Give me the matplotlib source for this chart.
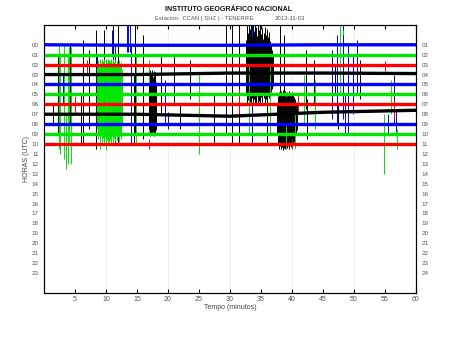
import matplotlib
matplotlib.use('Agg')
from matplotlib import pyplot as plt

plt.rcParams['font.family'] = ['Liberation Sans', 'DejaVu Sans']

# etiquetas de horas (izquierda: inicio de la fila, derecha: final)
horas_izq = ['%02d' % h for h in range(24)]
horas_der = ['%02d' % h for h in range(1, 25)]
minutos_ticks = [5, 10, 15, 20, 25, 30, 35, 40, 45, 50, 55, 60]

# colores de las trazas, se repiten cada 4 horas
colores = ['#0000ff', '#00e600', '#ff0000', '#000000']

# deriva de la linea base de cada hora (minuto, desplazamiento en filas)
base_min = [0, 15, 30, 45, 60]
deriva = [
    [0.0, 0.05, 0.05, 0.0, 0.0],
    [0.0, 0.0, 0.0, 0.0, 0.0],
    [0.0, 0.0, 0.0, 0.0, 0.0],
    [0.0, 0.0, -0.15, -0.15, -0.1],
    [0.0, 0.0, 0.0, 0.0, 0.0],
    [0.0, 0.0, 0.0, 0.0, 0.0],
    [0.0, 0.0, 0.0, 0.0, 0.0],
    [0.0, 0.0, 0.2, -0.2, -0.4],
    [0.0, 0.0, 0.0, 0.0, 0.0],
    [0.0, 0.0, 0.0, 0.0, 0.0],
    [0.0, 0.0, 0.0, 0.0, 0.0],
]

# picos aislados por hora: (minuto, subida, bajada) en filas
picos = [
    [(11.0, 1.5, 1.0), (13.4, 2.5, 0.7), (13.6, 2.5, 0.7), (13.8, 2.5, 0.7), (33.6, 2.0, 0.5),
     (47.8, 2.5, 1.0), (48.3, 2.5, 1.5), (50.5, 0.5, 5.0)],
    [(2.4, 1.0, 9.5), (3.2, 1.0, 10.5), (4.0, 0.8, 9.0), (4.4, 0.8, 7.0), (47.8, 3.0, 4.0), (48.3, 2.5, 3.0)],
    [(7.0, 0.5, 1.0), (21.0, 0.5, 0.5), (55.0, 0.4, 0.6)],
    [(2.2, 2.0, 6.0), (4.2, 3.0, 5.0), (6.2, 3.5, 7.0), (7.3, 2.5, 5.5), (8.3, 4.5, 7.5), (9.6, 4.5, 6.0),
     (11.1, 5.0, 5.0), (12.0, 5.0, 7.0), (14.7, 5.0, 6.0), (16.0, 4.0, 6.5), (18.8, 2.0, 4.0), (21.0, 2.0, 3.0),
     (23.5, 1.5, 2.5), (29.3, 5.0, 6.0), (30.4, 5.0, 7.0), (31.5, 5.0, 7.0), (38.0, 5.0, 7.0),
     (38.8, 4.0, 6.0), (42.2, 2.5, 3.5), (43.5, 1.5, 3.0), (47.0, 1.0, 2.0), (51.0, 1.5, 2.5)],
    [(3.0, 1.0, 2.0), (8.5, 3.0, 4.0), (11.5, 4.0, 6.0), (14.0, 4.0, 6.0), (19.5, 0.5, 4.0), (46.5, 3.5, 3.5),
     (47.2, 5.0, 4.0), (48.2, 5.0, 3.5), (49.0, 4.0, 5.0), (49.8, 3.0, 3.0), (56.5, 1.0, 4.0)],
    [(2.5, 4.0, 6.0), (3.8, 4.0, 7.0), (14.8, 4.0, 5.0), (17.0, 3.5, 4.0), (25.0, 2.0, 3.0), (33.0, 3.0, 4.0),
     (36.5, 3.0, 4.0), (42.0, 2.0, 3.0), (43.8, 1.5, 3.5), (56.0, 1.5, 2.0)],
    [(5.0, 0.8, 1.0), (31.5, 1.5, 1.0), (41.0, 1.0, 1.0), (56.5, 0.5, 1.5)],
    [(1.5, 1.0, 1.0), (6.0, 2.0, 3.0), (14.5, 4.0, 3.0), (22.0, 1.0, 1.5), (27.5, 2.0, 3.0), (36.0, 6.0, 3.0),
     (42.5, 1.5, 2.5), (47.5, 1.0, 1.5)],
    [(20.0, 1.2, 0.5), (33.5, 2.0, 2.0), (48.5, 3.0, 1.0), (55.5, 1.0, 1.0), (56.8, 1.5, 0.8)],
    [(3.5, 2.0, 3.5), (4.3, 1.5, 3.0), (25.0, 1.0, 2.0), (39.0, 1.0, 1.5), (40.5, 2.0, 1.5), (54.8, 2.0, 4.0),
     (57.0, 0.5, 1.5)],
    [(17.0, 0.5, 0.5), (40.0, 0.5, 0.5)],
]

# rafagas densas: (minuto inicio, paso en minutos, [(subida, bajada), ...])
rafagas = [
    [],
    [],
    [],
    [(32.6, 0.16, [(3.5, 2.0), (5.0, 3.0), (4.2, 2.6), (5.0, 3.2), (4.6, 2.8), (5.0, 3.0), (3.8, 2.4),
                   (5.0, 3.1), (4.4, 2.5), (5.0, 3.0), (4.8, 2.9), (3.9, 2.2), (5.0, 3.0), (4.5, 2.7),
                   (5.0, 3.1), (4.1, 2.3), (4.7, 2.8), (3.6, 2.0), (4.2, 2.4), (4.8, 2.9), (4.0, 2.5),
                   (4.6, 2.6), (3.8, 2.2), (4.3, 2.4), (3.4, 2.0), (3.0, 1.8), (2.5, 1.5), (2.0, 1.2)])],
    [],
    [(8.6, 0.15, [(2.8, 3.5), (3.5, 4.5), (3.0, 4.0), (3.6, 5.5), (3.2, 4.2), (3.6, 5.0), (3.4, 4.4),
                  (3.6, 4.9), (3.1, 4.3), (3.6, 5.6), (3.3, 4.6), (3.6, 5.0), (3.0, 4.1), (3.5, 4.8),
                  (3.4, 4.5), (3.6, 5.0), (3.2, 4.2), (3.6, 4.9), (3.3, 4.4), (3.5, 4.7), (3.0, 4.0),
                  (3.4, 4.6), (3.2, 4.3), (3.5, 4.8), (3.1, 4.2), (3.3, 4.5), (2.5, 3.2), (1.5, 2.0)])],
    [],
    [(16.9, 0.13, [(3.0, 1.5), (4.0, 2.0), (4.5, 2.2), (4.2, 2.0), (4.5, 2.1), (3.8, 1.8), (4.4, 2.2),
                   (4.0, 2.0), (4.3, 2.1), (3.2, 1.6)]),
     (37.6, 0.16, [(1.0, 2.0), (1.8, 3.0), (2.2, 3.5), (1.9, 3.2), (2.3, 3.5), (2.0, 3.3), (2.4, 3.6),
                   (2.1, 3.4), (2.3, 3.5), (1.8, 3.0), (2.2, 3.4), (2.0, 3.2), (2.3, 3.5), (1.9, 3.1),
                   (2.1, 3.3), (2.2, 3.4), (1.9, 3.0), (1.7, 2.8), (1.5, 2.4), (1.2, 2.0), (1.0, 1.6)])],
    [],
    [],
    [],
]

fig, ax = plt.subplots(figsize=(4.5, 3.37), dpi=100)
fig.subplots_adjust(left=0.098, right=0.924, top=0.926, bottom=0.131)

for i in range(len(deriva)):
    col = colores[i % 4]
    for (ini, paso, amps) in rafagas[i]:
        for k, (sub, baj) in enumerate(amps):
            ax.vlines(ini + k * paso, i - sub, i + baj, color=col, lw=0.7, zorder=2)
    for (m, sub, baj) in picos[i]:
        ax.vlines(m, i - sub, i + baj, color=col, lw=0.7, zorder=2)
    ax.plot(base_min, [i + d for d in deriva[i]], color=col, lw=2.4, zorder=3)

for m in range(10, 60, 10):
    ax.axvline(m, color='#ececec', lw=0.6, zorder=0)

ax.set_xlim(0, 60)
ax.set_ylim(25, -2)
ax.set_xticks(minutos_ticks)
ax.set_xticklabels([str(t) for t in minutos_ticks])
ax.set_yticks(range(24))
ax.set_yticklabels(horas_izq)
ax.tick_params(axis='x', direction='in', length=3, top=True, labelsize=5, labelcolor='#555555', pad=2)
ax.tick_params(axis='y', length=0, labelsize=4.5, labelcolor='#555555', pad=4)

axd = ax.twinx()
axd.set_ylim(25, -2)
axd.set_yticks(range(24))
axd.set_yticklabels(horas_der)
axd.tick_params(axis='y', length=0, labelsize=4.5, labelcolor='#555555', pad=4)

ax.set_xlabel('Tempo (minutos)', fontsize=5, color='#444444', labelpad=1)
ax.set_ylabel('HORAS (UTC)', fontsize=5, color='#444444', labelpad=1)

fig.text(0.508, 0.973, 'INSTITUTO GEOGRÁFICO NACIONAL', ha='center', va='center',
         fontsize=5.1, fontweight='bold', color='#111111')
fig.text(0.345, 0.946, 'Estación:  CCAN ( SHZ ) - TENERIFE', ha='left', va='center',
         fontsize=4.2, color='#555555')
fig.text(0.611, 0.946, '2013-11-03', ha='left', va='center', fontsize=4.3, color='#555555')

fig.savefig('out.png', dpi=100)
